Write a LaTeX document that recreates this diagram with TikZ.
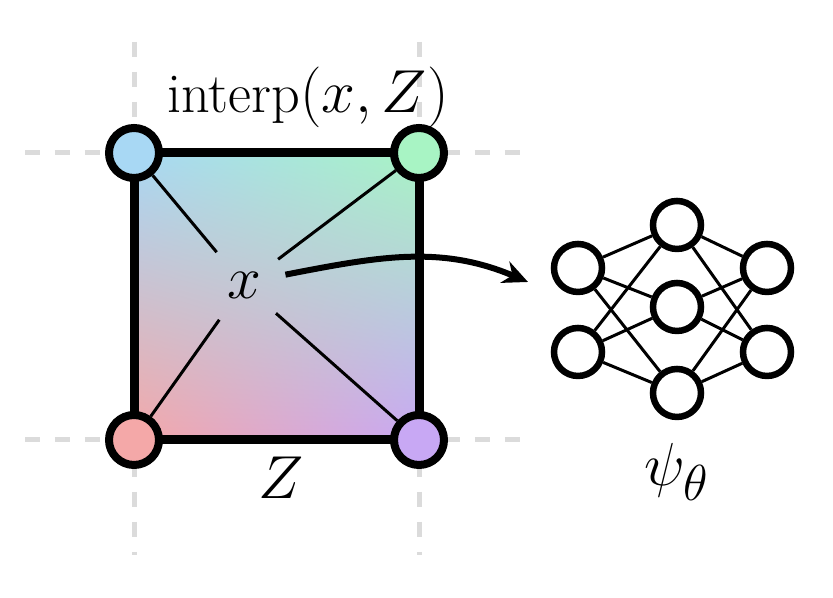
\documentclass[tikz,border=0pt]{standalone}
\usepackage{amsmath}
\usetikzlibrary{arrows.meta, positioning, calc, shadings}
\definecolor{cornerTL}{HTML}{A8D8F4}
\definecolor{cornerTR}{HTML}{A8F4C4}
\definecolor{cornerBL}{HTML}{F4A8A8}
\definecolor{cornerBR}{HTML}{C8A8F4}
\tikzset{
  gridline/.style = {draw=gray!28, line width=0.5mm, dash pattern=on 1.5mm off 1.5mm},
  cell/.style     = {draw, line width=0.9mm},
  vertex/.style   = {circle, draw, line width=0.8mm, minimum size=5mm, inner sep=0pt},
  spoke/.style    = {line width=0.3mm},
  query/.style    = {circle, minimum size=8.4mm, inner sep=0pt,
                     font=\fontsize{19}{22}\selectfont},
  neuron/.style   = {circle, draw, fill=white, line width=0.65mm, minimum size=4.8mm,
                     inner sep=0pt},
  synapse/.style  = {line width=0.3mm},
  mapto/.style    = {-{Stealth[length=2.5mm, width=2.3mm]}, line width=0.6mm},
  lab/.style      = {inner sep=0pt},
}

\begin{document}
\begin{tikzpicture}[x=0.1mm, y=0.1mm]
  \useasboundingbox (0,0) rectangle (833,598);
  % grid of the latent cell
  \draw[gridline] (134,556) -- (134,43);
  \draw[gridline] (419,556) -- (419,43);
  \draw[gridline] (25,445) -- (525,445);
  \draw[gridline] (25,158) -- (525,158);
  % the cell with its corner features
  \coordinate (ctl) at (134,445);
  \coordinate (ctr) at (419,445);
  \coordinate (cbl) at (134,158);
  \coordinate (cbr) at (419,158);
  \shade[upper left=cornerTL, upper right=cornerTR, lower left=cornerBL,
         lower right=cornerBR] (cbl) rectangle (ctr);
  \draw[cell] (cbl) rectangle (ctr);
  \node[query] (xq) at (244,313) {$x$};
  \node[vertex, fill=cornerTL] (ztl) at (ctl) {};
  \node[vertex, fill=cornerTR] (ztr) at (ctr) {};
  \node[vertex, fill=cornerBL] (zbl) at (cbl) {};
  \node[vertex, fill=cornerBR] (zbr) at (cbr) {};
  \foreach \z in {ztl,ztr,zbl,zbr}
    \draw[spoke] (\z) -- (xq);
  \node[lab, font=\fontsize{16}{19}\selectfont] (interp) at (308,501) {interp$(x,Z)$};
  \node[lab, font=\fontsize{18}{21}\selectfont] (zlab) at (281,120) {$Z$};
  % decoder network
  \node[neuron] (lt) at (578,330) {};
  \node[neuron] (lb) at (578,246) {};
  \node[neuron] (mt) at (677,373) {};
  \node[neuron] (mc) at (677,291) {};
  \node[neuron] (mb) at (677,205) {};
  \node[neuron] (rt) at (767,330) {};
  \node[neuron] (rb) at (767,246) {};
  \foreach \a in {lt,lb}
    \foreach \b in {mt,mc,mb}
      \draw[synapse] (\a) -- (\b);
  \foreach \b in {mt,mc,mb}
    \foreach \c in {rt,rb}
      \draw[synapse] (\b) -- (\c);
  \node[lab, font=\fontsize{19}{22}\selectfont] (psi) at (677,126) {$\psi_\theta$};
  \coordinate (netin) at (528,316);
  \draw[mapto] (xq.14) to[out=11, in=157] (netin);
\end{tikzpicture}
\end{document}
